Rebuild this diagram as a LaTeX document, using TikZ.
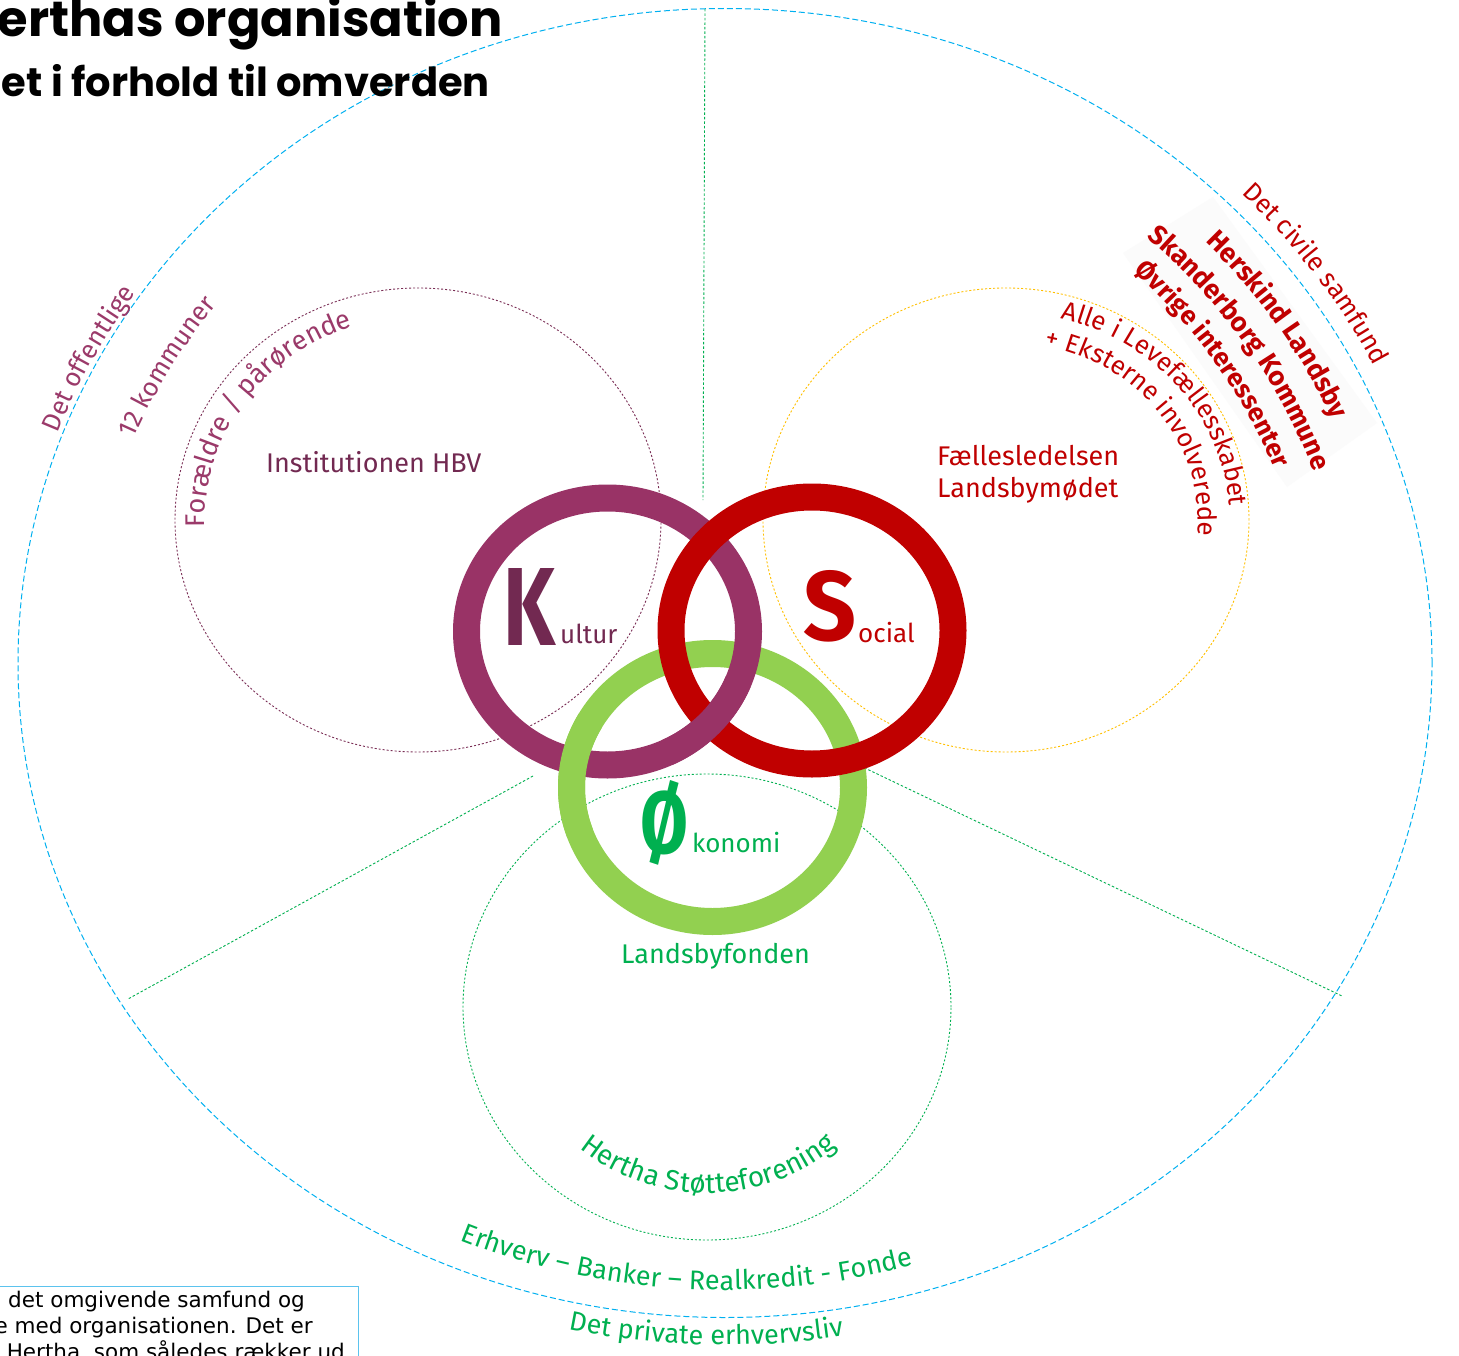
\documentclass[tikz,border=0pt]{standalone}
\usepackage{fontspec}
\usetikzlibrary{decorations.text}
\newfontfamily\labfont{Fira Sans}
\newfontfamily\titlefont{Poppins}
\newfontfamily\boxfont{DejaVu Sans}
\definecolor{cyanc}{HTML}{00B0F0}
\definecolor{spokec}{HTML}{00B050}
\definecolor{kdot}{HTML}{7A2E55}
\definecolor{sdot}{HTML}{FFC000}
\definecolor{odot}{HTML}{00B050}
\definecolor{ringk}{HTML}{993366}
\definecolor{rings}{HTML}{C00000}
\definecolor{ringo}{HTML}{92D050}
\definecolor{kdark}{HTML}{722951}
\definecolor{klight}{HTML}{9B3A6A}
\definecolor{sred}{HTML}{C00000}
\definecolor{ogreen}{HTML}{00B050}
\definecolor{boxc}{HTML}{5BC3EE}
\definecolor{backc}{HTML}{FBFBFB}
\tikzset{
  bigring/.style={draw=cyanc, line width=1pt, dash pattern=on 6pt off 3pt},
  spoke/.style={draw=spokec, line width=0.9pt, dash pattern=on 2.5pt off 2pt},
  dotring/.style={line width=0.9pt, dash pattern=on 2pt off 2pt},
  ring/.style={line width=27pt},
  lab/.style={inner sep=0pt, font=\labfont\fontsize{27}{30}\selectfont},
  small/.style={inner sep=0pt, font=\labfont\fontsize{26}{30}\selectfont},
  title/.style={inner sep=0pt, font=\titlefont\bfseries},
  boxtxt/.style={inner sep=0pt, font=\boxfont\fontsize{21.5}{26}\selectfont, text=black}
}
\begin{document}
\begin{tikzpicture}[x=1pt, y=1pt]
\useasboundingbox (0,0) rectangle (1459,-1356);
\fill[white] (0,0) rectangle (1459,-1356);

% outer ring (the surroundings)
\draw[bigring] (725,-663) ellipse [x radius=707, y radius=654.5];

% spokes
\coordinate (vtop) at (705,-9);
\coordinate (vbot) at (703,-500);
\coordinate (lin) at (533,-776);
\coordinate (lout) at (128,-999);
\coordinate (rin) at (848,-760);
\coordinate (rout) at (1342,-996);
\draw[spoke] (vtop) -- (vbot);
\draw[spoke] (lin) -- (lout);
\draw[spoke] (rin) -- (rout);

% sector circles
\draw[dotring, draw=kdot] (418,-520) ellipse [x radius=243, y radius=232];
\draw[dotring, draw=sdot] (1006,-520) ellipse [x radius=243, y radius=232];
\draw[dotring, draw=odot] (707,-1007) ellipse [x radius=244, y radius=233];

% title
\node[title, anchor=base east] (t1) at (503,-37) {\resizebox{505pt}{!}{erthas organisation}};
\node[title, anchor=base east] (t2) at (490,-97) {\resizebox{488pt}{!}{et i forhold til omverden}};

% light backdrop behind the civil society names
\fill[backc] (1123,-253) -- (1213,-197) -- (1377,-423) -- (1287,-487) -- cycle;

% curved labels: public sector
\path[decorate, decoration={text along path, text align=center, text color=klight,
  text={|\labfont\fontsize{26}{30}\selectfont|Det offentlige}}]
  (725,-663) ++(178:712 and 659) arc[start angle=178, end angle=128, x radius=712, y radius=659];
\path[decorate, decoration={text along path, text align=center, text color=klight,
  text={|\labfont\fontsize{26}{30}\selectfont|12 kommuner}}]
  (725,-663) ++(175:639 and 591) arc[start angle=175, end angle=126, x radius=639, y radius=591];
\path[decorate, decoration={text along path, text align=center, text color=klight,
  text={|\labfont\fontsize{27}{30}\selectfont|Forældre / pårørende}}]
  (418,-520) ++(205:213 and 203) arc[start angle=205, end angle=86, x radius=213, y radius=203];

% curved labels: civil society
\path[decorate, decoration={text along path, text align=center, text color=sred,
  text={|\labfont\fontsize{26}{30}\selectfont|Det civile samfund}}]
  (725,-663) ++(62:724 and 670) arc[start angle=62, end angle=8, x radius=724, y radius=670];
\path[decorate, decoration={text along path, text align=center, text color=sred,
  text={|\labfont\bfseries\fontsize{27}{30}\selectfont|Herskind Landsby}}]
  (725,-663) ++(62:662 and 612) arc[start angle=62, end angle=4, x radius=662, y radius=612];
\path[decorate, decoration={text along path, text align=center, text color=sred,
  text={|\labfont\bfseries\fontsize{27}{30}\selectfont|Skanderborg Kommune}}]
  (725,-663) ++(64:624 and 577) arc[start angle=64, end angle=2, x radius=624, y radius=577];
\path[decorate, decoration={text along path, text align=center, text color=sred,
  text={|\labfont\bfseries\fontsize{26}{30}\selectfont|Øvrige interessenter}}]
  (725,-663) ++(64:588 and 544) arc[start angle=64, end angle=2, x radius=588, y radius=544];
\path[decorate, decoration={text along path, text align=center, text color=sred,
  text={|\labfont\fontsize{26}{30}\selectfont|Alle i Levefællesskabet}}]
  (1006,-520) ++(98:224 and 208) arc[start angle=98, end angle=-20, x radius=224, y radius=208];
\path[decorate, decoration={text along path, text align=center, text color=sred,
  text={|\labfont\fontsize{26}{30}\selectfont|+ Eksterne involverede}}]
  (1006,-520) ++(98:192 and 178) arc[start angle=98, end angle=-26, x radius=192, y radius=178];

% curved labels: private sector
\path[decorate, decoration={text along path, text align=center, text color=ogreen,
  text={|\labfont\fontsize{28}{30}\selectfont|Hertha Støtteforening}}]
  (707,-1007) ++(210:196 and 186) arc[start angle=210, end angle=331, x radius=196, y radius=186];
\path[decorate, decoration={text along path, text align=center, text color=ogreen,
  text={|\labfont\fontsize{27}{30}\selectfont|Erhverv – Banker – Realkredit - Fonde}}]
  (725,-663) ++(236:678 and 627) arc[start angle=236, end angle=297, x radius=678, y radius=627];
\begin{scope}
\clip (0,-1300) rectangle (845,-1356);
\path[decorate, decoration={text along path, text align=center, text color=ogreen,
  text={|\labfont\fontsize{27}{30}\selectfont|Det private erhvervsliv}}]
  (725,-663) ++(247.5:737 and 682) arc[start angle=247.5, end angle=289.5, x radius=737, y radius=682];
\end{scope}

% sector labels
\node[lab, anchor=base west, text=kdark] (inst) at (266,-472) {Institutionen HBV};
\node[lab, anchor=base west, text=sred] (fael) at (937,-465) {Fællesledelsen};
\node[lab, anchor=base west, text=sred] (lmod) at (937,-497) {Landsbymødet};
\node[lab, anchor=base west, text=ogreen] (lfond) at (621,-963) {Landsbyfonden};

% the three interlocking rings
\draw[ring, draw=ringo] (712.5,-787.5) ellipse [x radius=141, y radius=134];
\draw[ring, draw=ringk] (607.5,-631.5) ellipse [x radius=141, y radius=133.5];
\draw[ring, draw=rings] (812,-630.5) ellipse [x radius=141, y radius=133.5];
% crossings redrawn on top
\draw[ring, draw=ringk] (607.5,-631.5) ++(-65:141 and 133.5) arc[start angle=-65, end angle=-22, x radius=141, y radius=133.5];
\draw[ring, draw=ringo] (712.5,-787.5) ++(150:141 and 134) arc[start angle=150, end angle=200, x radius=141, y radius=134];

% ring titles
\node[inner sep=0pt, anchor=base west, text=kdark] (K) at (503,-645) {\resizebox{52pt}{77pt}{\labfont\bfseries K}};
\node[small, anchor=base west, text=kdark] (kul) at (560,-643) {ultur};
\node[inner sep=0pt, anchor=base west, text=sred] (S) at (803,-640) {\resizebox{53pt}{70pt}{\labfont\bfseries S}};
\node[small, anchor=base west, text=sred] (soc) at (858,-642) {ocial};
\node[inner sep=0pt, anchor=base west, text=ogreen] (O) at (640,-853) {\resizebox{48pt}{73pt}{\labfont\bfseries Ø}};
\node[small, anchor=base west, text=ogreen] (oko) at (692,-852) {konomi};

% explanatory text box (cut by the page)
\draw[boxc, line width=1pt] (-5,-1286) rectangle (358,-1380);
\node[boxtxt, anchor=base east] (b1) at (305,-1307) {det omgivende samfund og};
\node[boxtxt, anchor=base east] (b2) at (313,-1333) {e med organisationen. Det er};
\node[boxtxt, anchor=base east] (b3) at (345,-1359) {Hertha, som således rækker ud};
\end{tikzpicture}
\end{document}
